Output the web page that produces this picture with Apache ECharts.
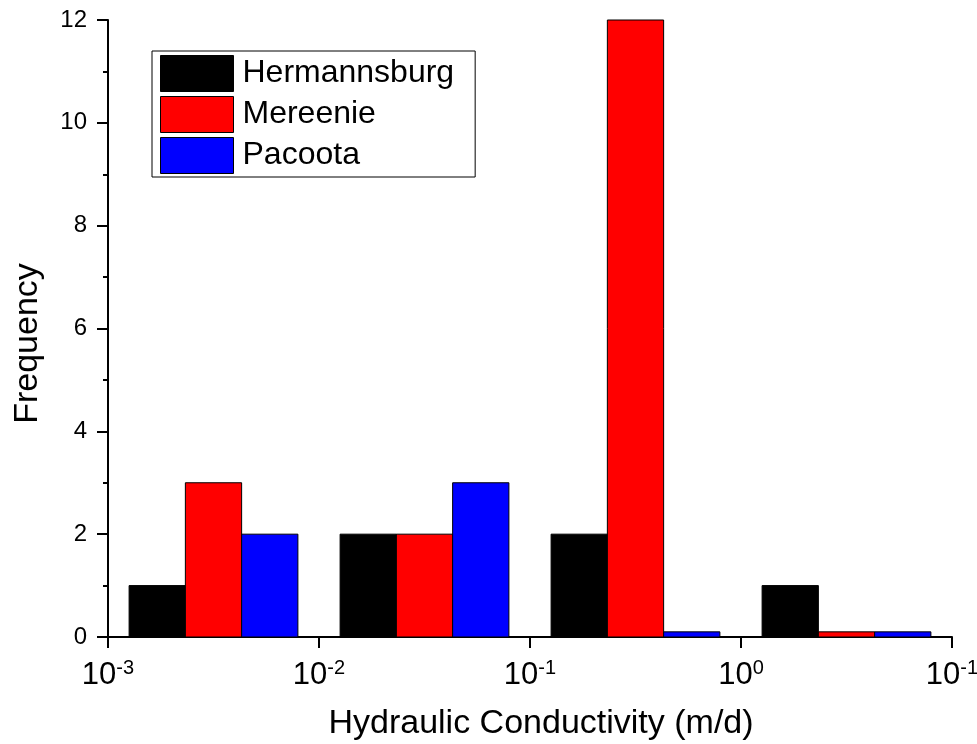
<!DOCTYPE html>
<html>
<head>
<meta charset="utf-8">
<script src="https://cdn.jsdelivr.net/npm/echarts@6/dist/echarts.min.js"></script>
<style>
  html, body { margin: 0; padding: 0; background: #fff; }
  #chart { width: 977px; height: 744px; }
</style>
</head>
<body>
<div id="chart"></div>
<script>
// Histogram bins: centre of each bin as a base-10 exponent of K (m/d)
const binCentres = [-2.5, -1.5, -0.5, 0.5];
const seriesNames = ['Hermannsburg', 'Mereenie', 'Pacoota'];
const seriesColors = ['#000000', '#ff0000', '#0000ff'];
const hermannsburg = [1, 2, 2, 1];
const mereenie = [3, 2, 12, 0.1];
const pacoota = [2, 3, 0.1, 0.1];
const xTickExponents = ['-3', '-2', '-1', '0', '-1'];
const yTicks = [0, 2, 4, 6, 8, 10, 12];

const FONT = 'Liberation Sans, Arial, sans-serif';
const groupSpan = 0.8;               // decades covered by the three bars of a bin
const barSpan = groupSpan / 3;

function barData(values, k) {
  return binCentres.map((c, i) => {
    const lo = c - groupSpan / 2 + k * barSpan;
    return [lo, lo + barSpan, values[i]];
  });
}

function renderBar(params, api) {
  const p0 = api.coord([api.value(0), 0]);
  const p1 = api.coord([api.value(1), api.value(2)]);
  return {
    type: 'rect',
    shape: { x: p0[0], y: p1[1], width: p1[0] - p0[0], height: p0[1] - p1[1] },
    style: { fill: api.visual('color'), stroke: '#000', lineWidth: 1 }
  };
}

const allValues = [hermannsburg, mereenie, pacoota];
const chart = echarts.init(document.getElementById('chart'));
chart.setOption({
  animation: false,
  backgroundColor: '#fff',
  textStyle: { fontFamily: FONT, color: '#000' },
  grid: { left: 108, right: 25, top: 20, bottom: 107, containLabel: false, outerBoundsMode: 'none' },
  legend: {
    left: 152, top: 51,
    orient: 'vertical',
    data: seriesNames,
    icon: 'rect',
    itemWidth: 73, itemHeight: 36, itemGap: 4,
    padding: [4, 21, 3, 8],
    borderColor: '#000', borderWidth: 1,
    itemStyle: { borderColor: '#000', borderWidth: 1 },
    textStyle: { fontFamily: FONT, fontSize: 32, color: '#000', padding: [0, 0, 0, 4] },
    selectedMode: false
  },
  xAxis: {
    type: 'value',
    min: -3, max: 1, interval: 1,
    name: 'Hydraulic Conductivity (m/d)',
    nameLocation: 'middle', nameGap: 70,
    nameTextStyle: { fontFamily: FONT, fontSize: 34, color: '#000', padding: [0, 0, 0, 22] },
    axisLine: { onZero: false, lineStyle: { color: '#000', width: 2 } },
    axisTick: { length: 11, lineStyle: { color: '#000', width: 2 } },
    splitLine: { show: false },
    axisLabel: {
      margin: 21,
      formatter: v => '{b|10}{s|' + xTickExponents[Math.round(v) + 3] + '}',
      rich: {
        b: { fontFamily: FONT, fontSize: 31, color: '#000', lineHeight: 34 },
        s: { fontFamily: FONT, fontSize: 20, color: '#000', verticalAlign: 'top', lineHeight: 34, padding: [0, 0, 14, 0] }
      }
    }
  },
  yAxis: {
    type: 'value',
    min: 0, max: 12, interval: 2,
    name: 'Frequency',
    nameLocation: 'middle', nameGap: 63,
    nameTextStyle: { fontFamily: FONT, fontSize: 34, color: '#000', padding: [0, 30, 0, 0] },
    axisLine: { show: true, onZero: false, lineStyle: { color: '#000', width: 2 } },
    axisTick: { show: true, length: 11, lineStyle: { color: '#000', width: 2 } },
    minorTick: { show: true, splitNumber: 2, length: 5, lineStyle: { color: '#000', width: 2 } },
    splitLine: { show: false },
    axisLabel: {
      margin: 21, fontFamily: FONT, fontSize: 24, color: '#000',
      formatter: v => (yTicks.indexOf(v) >= 0 ? String(v) : '')
    }
  },
  series: seriesNames.map((name, k) => ({
    name,
    type: 'custom',
    renderItem: renderBar,
    itemStyle: { color: seriesColors[k], borderColor: '#000', borderWidth: 1 },
    encode: { x: [0, 1], y: 2 },
    data: barData(allValues[k], k)
  }))
});
</script>
</body>
</html>
